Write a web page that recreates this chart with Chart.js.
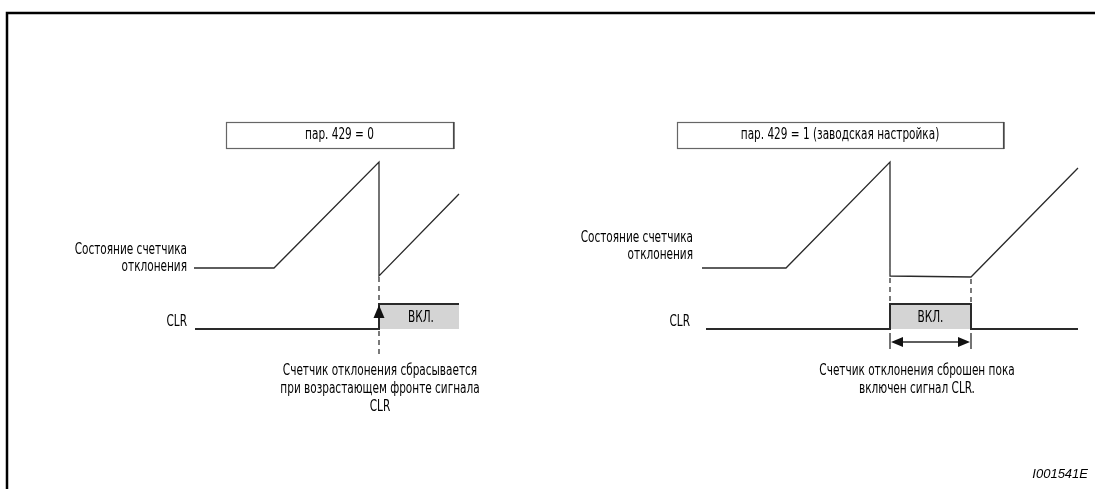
<!DOCTYPE html>
<html>
<head>
<meta charset="utf-8">
<script src="https://cdn.jsdelivr.net/npm/chart.js@4"></script>
<style>
  html, body { margin: 0; padding: 0; background: #fff; }
  #chart { display: block; }
</style>
</head>
<body>
<canvas id="chart" width="1095" height="489"></canvas>
<script>
// Texts
const panelTitles = ['пар. 429 = 0', 'пар. 429 = 1 (заводская настройка)'];
const counterLabel = ['Состояние счетчика', 'отклонения'];
const clrLabel = 'CLR';
const onLabel = 'ВКЛ.';
const captionLeft = ['Счетчик отклонения сбрасывается', 'при возрастающем фронте сигнала', 'CLR'];
const captionRight = ['Счетчик отклонения сброшен пока', 'включен сигнал CLR.'];
const figureId = 'I001541E';

// Waveform corners: time (x) and level (y, top = 0)
const leftCounterT = [194, 274, 379, 379, 459];
const leftCounterV = [268, 268, 162, 276, 194];
const leftClrT = [195, 379, 379, 459];
const leftClrV = [329, 329, 304, 304];
const leftOnT = [379, 459];

const rightCounterT = [702, 786, 890, 890, 971, 1078];
const rightCounterV = [268, 268, 162, 276, 277, 168];
const rightClrT = [706, 890, 890, 971, 971, 1078];
const rightClrV = [329, 329, 304, 304, 329, 329];
const rightOnT = [890, 971];

const clrHigh = 304;
const clrLow = 329;

const FONT = '"Liberation Sans Narrow", "DejaVu Sans Condensed", sans-serif';
const INK = '#2a2a2a';
const SQUEEZE = 0.73; // narrow the text like the condensed original

function pts(t, v) {
    return t.map((x, i) => ({ x: x, y: v[i] }));
}

function lineSet(t, v, width) {
    return {
        data: pts(t, v),
        borderColor: INK,
        borderWidth: width,
        pointRadius: 0,
        tension: 0,
        fill: false
    };
}

function onSet(t) {
    return {
        data: pts(t, [clrHigh, clrHigh]),
        borderWidth: 0,
        borderColor: 'rgba(0,0,0,0)',
        backgroundColor: '#d4d4d4',
        pointRadius: 0,
        fill: { value: clrLow }
    };
}

function dashSet(x, y0, y1) {
    return {
        data: [{ x: x, y: y0 }, { x: x, y: y1 }],
        borderColor: '#222',
        borderWidth: 1.2,
        borderDash: [5, 4],
        pointRadius: 0,
        fill: false
    };
}

function text(ctx, s, x, y, align) {
    ctx.save();
    ctx.translate(x, y);
    ctx.scale(SQUEEZE, 1);
    ctx.textAlign = align;
    ctx.fillText(s, 0, 0);
    ctx.restore();
}

// Boxes, labels, arrows and frame drawn on top of the plot
const decorations = {
    id: 'decorations',
    afterDraw(chart) {
        const ctx = chart.ctx;
        const sx = chart.scales.x, sy = chart.scales.y;
        const px = v => sx.getPixelForValue(v);
        const py = v => sy.getPixelForValue(v);
        ctx.save();

        // frame
        ctx.strokeStyle = '#000';
        ctx.lineWidth = 2.5;
        ctx.beginPath();
        ctx.moveTo(7, 489);
        ctx.lineTo(7, 13);
        ctx.lineTo(1095, 13);
        ctx.stroke();

        // title boxes
        const boxes = [[226, 453], [677, 1003]];
        ctx.font = '16px ' + FONT;
        ctx.fillStyle = '#000';
        ctx.textBaseline = 'middle';
        boxes.forEach((b, i) => {
            ctx.strokeStyle = '#666';
            ctx.lineWidth = 1.2;
            ctx.strokeRect(b[0] + 0.5, 122.5, b[1] - b[0], 26);
            ctx.strokeStyle = '#333';
            ctx.beginPath();
            ctx.moveTo(b[1] + 1, 122);
            ctx.lineTo(b[1] + 1, 149);
            ctx.stroke();
            text(ctx, panelTitles[i], (b[0] + b[1]) / 2, 135, 'center');
        });

        // row labels
        text(ctx, counterLabel[0], 187, 250, 'right');
        text(ctx, counterLabel[1], 187, 267, 'right');
        text(ctx, clrLabel, 187, 322, 'right');
        text(ctx, counterLabel[0], 693, 238, 'right');
        text(ctx, counterLabel[1], 693, 255, 'right');
        text(ctx, clrLabel, 690, 322, 'right');

        // ON labels
        text(ctx, onLabel, px((leftOnT[0] + leftOnT[1]) / 2) + 2, 318, 'center');
        text(ctx, onLabel, px((rightOnT[0] + rightOnT[1]) / 2), 318, 'center');

        // captions
        captionLeft.forEach((s, i) => text(ctx, s, px(379) + 1, 371 + i * 18, 'center'));
        captionRight.forEach((s, i) => text(ctx, s, 917, 371 + i * 18, 'center'));

        // up arrow on rising edge
        const ax = px(leftOnT[0]);
        ctx.strokeStyle = INK;
        ctx.fillStyle = '#111';
        ctx.lineWidth = 1.5;
        ctx.beginPath();
        ctx.moveTo(ax, py(clrLow));
        ctx.lineTo(ax, py(clrHigh) + 12);
        ctx.stroke();
        ctx.beginPath();
        ctx.moveTo(ax, py(clrHigh) + 1);
        ctx.lineTo(ax - 5.5, py(clrHigh) + 14);
        ctx.lineTo(ax + 5.5, py(clrHigh) + 14);
        ctx.closePath();
        ctx.fill();

        // double arrow under the ON pulse
        const x0 = px(rightOnT[0]), x1 = px(rightOnT[1]), ay = 342;
        ctx.lineWidth = 1.3;
        ctx.beginPath();
        ctx.moveTo(x0, 333); ctx.lineTo(x0, 349);
        ctx.moveTo(x1, 333); ctx.lineTo(x1, 349);
        ctx.moveTo(x0 + 10, ay); ctx.lineTo(x1 - 10, ay);
        ctx.stroke();
        ctx.beginPath();
        ctx.moveTo(x0 + 1, ay); ctx.lineTo(x0 + 13, ay - 5); ctx.lineTo(x0 + 13, ay + 5);
        ctx.closePath();
        ctx.moveTo(x1 - 1, ay); ctx.lineTo(x1 - 13, ay - 5); ctx.lineTo(x1 - 13, ay + 5);
        ctx.closePath();
        ctx.fill();

        // figure id
        ctx.font = 'italic 13px "Liberation Sans", Arial, sans-serif';
        ctx.textAlign = 'right';
        ctx.fillStyle = '#000';
        ctx.fillText(figureId, 1088, 474);

        ctx.restore();
    }
};

const ctx = document.getElementById('chart').getContext('2d');
const chart = new Chart(ctx, {
    type: 'line',
    data: {
        datasets: [
            lineSet(leftCounterT, leftCounterV, 1.3),
            lineSet(rightCounterT, rightCounterV, 1.3),
            lineSet(leftClrT, leftClrV, 2),
            lineSet(rightClrT, rightClrV, 2),
            dashSet(379, 277, 354),
            dashSet(890, 278, 304),
            dashSet(971, 279, 304),
            onSet(leftOnT),
            onSet(rightOnT)
        ]
    },
    options: {
        responsive: false,
        devicePixelRatio: 1,
        animation: false,
        layout: { padding: 0 },
        plugins: {
            legend: { display: false },
            tooltip: { enabled: false }
        },
        scales: {
            x: { type: 'linear', min: 0, max: 1095, display: false },
            y: { type: 'linear', min: 0, max: 489, reverse: true, display: false }
        }
    },
    plugins: [decorations]
});
</script>
</body>
</html>
